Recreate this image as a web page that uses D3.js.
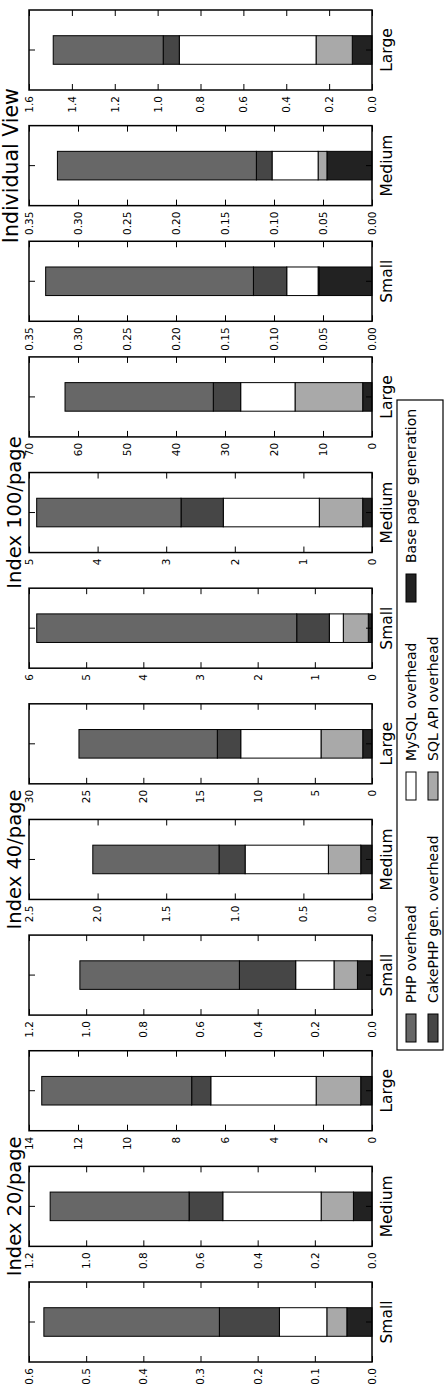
<html>
<head>
<script src="https://cdnjs.cloudflare.com/ajax/libs/d3/7.8.5/d3.min.js"></script>
<style>
  body { margin: 0; background: white; }
  text { font-family: "DejaVu Sans", sans-serif; }
</style>
</head>
<body>
<svg id="chart" width="446" height="1398"></svg>
<script>
// one panel per (group, size), left to right in the unrotated figure
const groups = ["Index 20/page", "Index 40/page", "Index 100/page", "Individual View"];
const sizes = ["Small", "Medium", "Large"];
const seriesNames = ["Base page generation", "SQL API overhead", "MySQL overhead", "CakePHP gen. overhead", "PHP overhead"];

const basePage = [0.044, 0.065, 0.46, 0.051, 0.082, 0.81, 0.065, 0.136, 1.90, 0.054, 0.046, 0.092];
const sqlApi   = [0.035, 0.113, 1.82, 0.082, 0.236, 3.65, 0.437, 0.632, 13.81, 0.001, 0.009, 0.169];
const mysql    = [0.083, 0.344, 4.30, 0.134, 0.607, 7.02, 0.245, 1.400, 11.09, 0.032, 0.047, 0.638];
const cakePhp  = [0.105, 0.118, 0.78, 0.197, 0.190, 2.05, 0.570, 0.616, 5.59, 0.034, 0.016, 0.075];
const php      = [0.307, 0.486, 6.12, 0.558, 0.920, 12.10, 4.548, 2.104, 30.26, 0.212, 0.203, 0.513];

const axisMax  = [0.6, 1.2, 14, 1.2, 2.5, 30, 6, 5, 70, 0.35, 0.35, 1.6];
const tickStep = [0.1, 0.2, 2, 0.2, 0.5, 5, 1, 1, 10, 0.05, 0.05, 0.2];
const tickFmt  = [".1f", ".1f", "d", ".1f", ".1f", "d", "d", "d", "d", ".2f", ".2f", ".1f"];

const legendOrder = ["PHP overhead", "CakePHP gen. overhead", "MySQL overhead", "SQL API overhead", "Base page generation"];

const colors = {
  "PHP overhead": "#676767",
  "CakePHP gen. overhead": "#464646",
  "MySQL overhead": "#ffffff",
  "SQL API overhead": "#a9a9a9",
  "Base page generation": "#222222"
};

// table for d3.stack
const table = basePage.map((d, i) => ({
  panel: i,
  group: groups[Math.floor(i / 3)],
  size: sizes[i % 3],
  "Base page generation": basePage[i],
  "SQL API overhead": sqlApi[i],
  "MySQL overhead": mysql[i],
  "CakePHP gen. overhead": cakePhp[i],
  "PHP overhead": php[i]
}));
const stacked = d3.stack().keys(seriesNames)(table);

// the figure is laid out landscape (1398 x 446) and turned a quarter to the left
const W = 1398;
const root = d3.select("#chart").append("g")
  .attr("transform", "translate(0," + W + ") rotate(-90)");

const panelX = d3.scaleLinear().domain([0, 11]).range([36, 1308]);
const panelW = 80;
const yTop = 29, yBottom = 372;

table.forEach((row, i) => {
  const g = root.append("g").attr("transform", "translate(" + panelX(i) + ",0)");
  const y = d3.scaleLinear().domain([0, axisMax[i]]).range([yBottom, yTop]);
  const x = d3.scaleBand().domain([row.size]).range([0, panelW]).paddingInner(0).paddingOuter(0.9);
  const ticks = d3.range(0, axisMax[i] + tickStep[i] / 2, tickStep[i]);

  // bars
  stacked.forEach(s => {
    const d = s[i];
    g.append("rect")
      .attr("x", x(row.size))
      .attr("width", x.bandwidth())
      .attr("y", y(d[1]))
      .attr("height", y(d[0]) - y(d[1]))
      .attr("fill", colors[s.key])
      .attr("stroke", "black")
      .attr("stroke-width", 1);
  });

  // value axes, ticks pointing inward
  const left = g.append("g")
    .call(d3.axisLeft(y).tickValues(ticks).tickFormat(d3.format(tickFmt[i]))
      .tickSizeInner(-6).tickSizeOuter(0).tickPadding(6));
  left.select(".domain").remove();
  left.selectAll("text").style("font-size", "10.5px").attr("font-family", "DejaVu Sans");
  left.selectAll("line").attr("stroke", "black");

  const right = g.append("g").attr("transform", "translate(" + panelW + ",0)")
    .call(d3.axisRight(y).tickValues(ticks).tickFormat("").tickSizeInner(-6).tickSizeOuter(0));
  right.select(".domain").remove();

  // category axes
  const bot = g.append("g").attr("transform", "translate(0," + yBottom + ")")
    .call(d3.axisBottom(x).tickSizeInner(-6).tickSizeOuter(0).tickPadding(9));
  bot.select(".domain").remove();
  bot.selectAll("text").style("font-size", "15.5px").attr("font-family", "DejaVu Sans");

  const tp = g.append("g").attr("transform", "translate(0," + yTop + ")")
    .call(d3.axisTop(x).tickFormat("").tickSizeInner(-6).tickSizeOuter(0));
  tp.select(".domain").remove();

  // frame
  g.append("rect")
    .attr("x", 0).attr("y", yTop)
    .attr("width", panelW).attr("height", yBottom - yTop)
    .attr("fill", "none").attr("stroke", "black").attr("stroke-width", 1.5);
});

// group titles over the middle panel of each group
groups.forEach((name, k) => {
  const last = k === groups.length - 1;
  root.append("text")
    .attr("x", panelX(k * 3 + 1) + panelW / 2)
    .attr("y", last ? 18 : 21)
    .attr("text-anchor", "middle")
    .style("font-size", last ? "20.5px" : "19.5px")
    .text(name);
});

// legend, three columns filled top to bottom
const leg = root.append("g");
leg.append("rect")
  .attr("x", 348).attr("y", 397).attr("width", 650).attr("height", 46)
  .attr("fill", "white").attr("stroke", "black").attr("stroke-width", 1.2);

const colX = [356, 598, 796];
const rowY = [411, 433];
legendOrder.forEach((name, k) => {
  const c = Math.floor(k / 2), r = k % 2;
  leg.append("rect")
    .attr("x", colX[c]).attr("y", rowY[r] - 5)
    .attr("width", 28).attr("height", 10)
    .attr("fill", colors[name]).attr("stroke", "black").attr("stroke-width", 1);
  leg.append("text")
    .attr("x", colX[c] + 39).attr("y", rowY[r])
    .attr("dy", "0.35em")
    .style("font-size", "14px")
    .text(name);
});
</script>
</body>
</html>
